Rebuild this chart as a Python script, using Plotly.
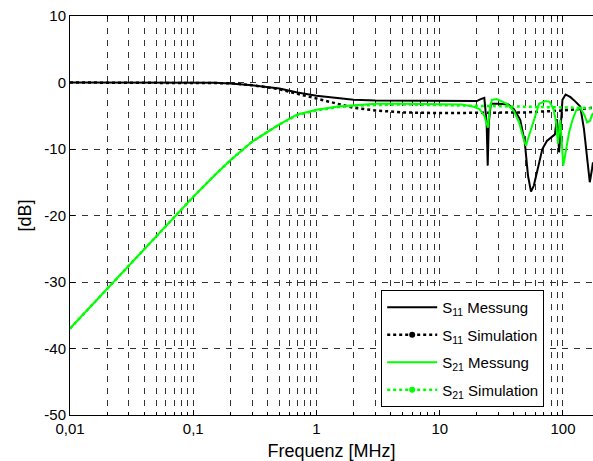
import plotly.graph_objects as go

# ---------------- data ----------------
# S11 measurement (black solid)
f_s11m = [0.01, 0.02, 0.05, 0.1, 0.15, 0.2, 0.3, 0.5, 0.7, 1.0, 1.5, 2.0, 3.0, 5.0, 10.0, 15.0,
          20.0, 21.5, 23.0, 24.0, 24.5, 25.0, 26.0, 30.0, 36.0, 40.0, 45.0, 49.0, 52.0, 55.0,
          58.0, 62.0, 68.0, 74.0, 80.0, 86.0, 89.0, 91.0, 93.0, 96.0, 99.0, 105.0, 115.0,
          125.0, 138.0, 148.0, 158.0, 165.0, 172.0, 175.0]
s11m = [0.0, 0.0, 0.0, 0.0, -0.05, -0.15, -0.4, -0.9, -1.5, -2.0, -2.4, -2.6, -2.7, -2.75, -2.8, -2.8,
        -2.8, -2.5, -2.3, -6.0, -12.5, -6.0, -3.2, -3.2, -3.3, -4.0, -5.6, -9.0, -14.0, -16.4,
        -15.5, -13.2, -10.0, -8.8, -8.3, -7.8, -5.5, -7.0, -10.5, -6.0, -2.6, -1.8, -2.2,
        -2.8, -3.6, -7.0, -12.0, -15.0, -13.0, -12.0]

# S21 measurement (green solid)
f_s21m = [0.01, 0.015, 0.02, 0.03, 0.05, 0.07, 0.1, 0.15, 0.2, 0.3, 0.5, 0.7, 1.0, 1.5, 2.0, 3.0,
          5.0, 10.0, 15.0, 18.5, 21.0, 23.0, 24.6, 25.5, 26.5, 29.0, 35.0, 40.0, 44.0, 48.0,
          50.0, 53.0, 57.0, 64.0, 72.0, 78.0, 84.0, 88.0, 91.0, 93.0, 95.0, 97.0, 100.5,
          104.0, 112.0, 120.0, 128.0, 138.0, 150.0, 157.0, 165.0, 173.0, 175.0]
s21m = [-37.0, -33.5, -31.0, -27.5, -23.1, -20.2, -17.2, -13.9, -11.7, -8.9, -6.3, -4.8, -4.1, -3.6, -3.4, -3.2,
        -3.2, -3.2, -3.3, -3.6, -4.0, -5.0, -6.8, -4.0, -2.6, -2.5, -3.2, -4.3, -6.0, -8.5,
        -9.5, -8.0, -6.0, -3.2, -2.8, -2.9, -4.1, -6.0, -9.2, -7.5, -5.6, -8.0, -12.5,
        -11.0, -7.5, -5.5, -4.2, -3.8, -5.0, -6.0, -5.8, -4.8, -4.6]

# Simulations (dotted)
f_sim = [0.01, 0.02, 0.05, 0.07, 0.1, 0.15, 0.2, 0.3, 0.5, 0.7, 1.0, 1.5, 2.0, 3.0, 5.0, 10.0,
         20.0, 50.0, 100.0, 140.0, 175.0]
s11s = [0.0, 0.0, 0.0, 0.0, 0.0, -0.05, -0.1, -0.4, -1.0, -1.7, -2.4, -3.3, -3.8, -4.2, -4.5, -4.6,
        -4.6, -4.5, -4.2, -4.0, -3.8]
s21s = [-37.0, -31.0, -23.1, -20.2, -17.2, -13.9, -11.7, -8.9, -6.3, -4.9, -4.2, -3.7, -3.5, -3.4, -3.3, -3.4,
        -3.5, -3.6, -3.7, -3.8, -3.9]

x_tickvals = [0.01, 0.1, 1, 10, 100]
x_ticktext = ["0,01", "0,1", "1", "10", "100"]
y_tickvals = [10, 0, -10, -20, -30, -40, -50]
y_ticktext = ["10", "0", "-10", "-20", "-30", "-40", "-50"]
x_minor = [m * d for d in [0.01, 0.1, 1, 10, 100] for m in range(2, 10)]

labels = ["S<sub>11</sub> Messung", "S<sub>11</sub> Simulation",
          "S<sub>21</sub> Messung", "S<sub>21</sub> Simulation"]

BLACK = "#000000"
GREEN = "#00ff00"

fig = go.Figure()

# plotted curves
fig.add_trace(go.Scatter(x=f_s11m, y=s11m, mode="lines", line=dict(color=BLACK, width=2),
                         showlegend=False))
fig.add_trace(go.Scatter(x=f_sim, y=s11s, mode="lines", line=dict(color=BLACK, width=2.5, dash="dot"),
                         showlegend=False))
fig.add_trace(go.Scatter(x=f_s21m, y=s21m, mode="lines", line=dict(color=GREEN, width=2),
                         showlegend=False))
fig.add_trace(go.Scatter(x=f_sim, y=s21s, mode="lines", line=dict(color=GREEN, width=2.5, dash="dot"),
                         showlegend=False))

# legend entries
fig.add_trace(go.Scatter(x=[None], y=[None], mode="lines", name=labels[0], legendgroup="a",
                         line=dict(color=BLACK, width=2)))
fig.add_trace(go.Scatter(x=[None], y=[None], mode="lines+markers", name=labels[1], legendgroup="b",
                         line=dict(color=BLACK, width=2.5, dash="dot"),
                         marker=dict(color=BLACK, size=6)))
fig.add_trace(go.Scatter(x=[None], y=[None], mode="lines", name=labels[2], legendgroup="c",
                         line=dict(color=GREEN, width=2)))
fig.add_trace(go.Scatter(x=[None], y=[None], mode="lines+markers", name=labels[3], legendgroup="d",
                         line=dict(color=GREEN, width=2.5, dash="dot"),
                         marker=dict(color=GREEN, size=6)))

FONT = "Liberation Sans, Arial, Helvetica, sans-serif"

fig.update_layout(
    width=593, height=461,
    margin=dict(l=70, r=0, t=16, b=46),
    paper_bgcolor="white", plot_bgcolor="white",
    font=dict(family=FONT, size=15, color="black"),
    legend=dict(x=0.595, y=0.313, xanchor="left", yanchor="top",
                bgcolor="white", bordercolor="black", borderwidth=1,
                font=dict(size=15), tracegroupgap=5, itemwidth=50),
)

fig.update_xaxes(
    type="log", range=[-2, 2.2435],
    tickmode="array", tickvals=x_tickvals, ticktext=x_ticktext,
    showline=True, linecolor="black", linewidth=1, mirror="ticks",
    ticks="inside", ticklen=5, tickcolor="black",
    showgrid=True, gridcolor="#333333", gridwidth=1, griddash="6px,6px",
    minor=dict(tickmode="array", tickvals=x_minor, ticks="inside", ticklen=3, tickcolor="black",
               showgrid=True, gridcolor="#333333", gridwidth=1, griddash="6px,6px"),
    tickfont=dict(size=15),
    title=dict(text="Frequenz [MHz]", font=dict(size=18), standoff=12),
    zeroline=False,
)
fig.update_yaxes(
    range=[-50, 10],
    tickmode="array", tickvals=y_tickvals, ticktext=y_ticktext,
    showline=True, linecolor="black", linewidth=1, mirror=False,
    ticks="inside", ticklen=5, tickcolor="black",
    showgrid=True, gridcolor="#333333", gridwidth=1, griddash="6px,6px",
    tickfont=dict(size=15),
    title=dict(text="[dB]", font=dict(size=18), standoff=8),
    zeroline=False,
)

fig.write_html("out.html")
